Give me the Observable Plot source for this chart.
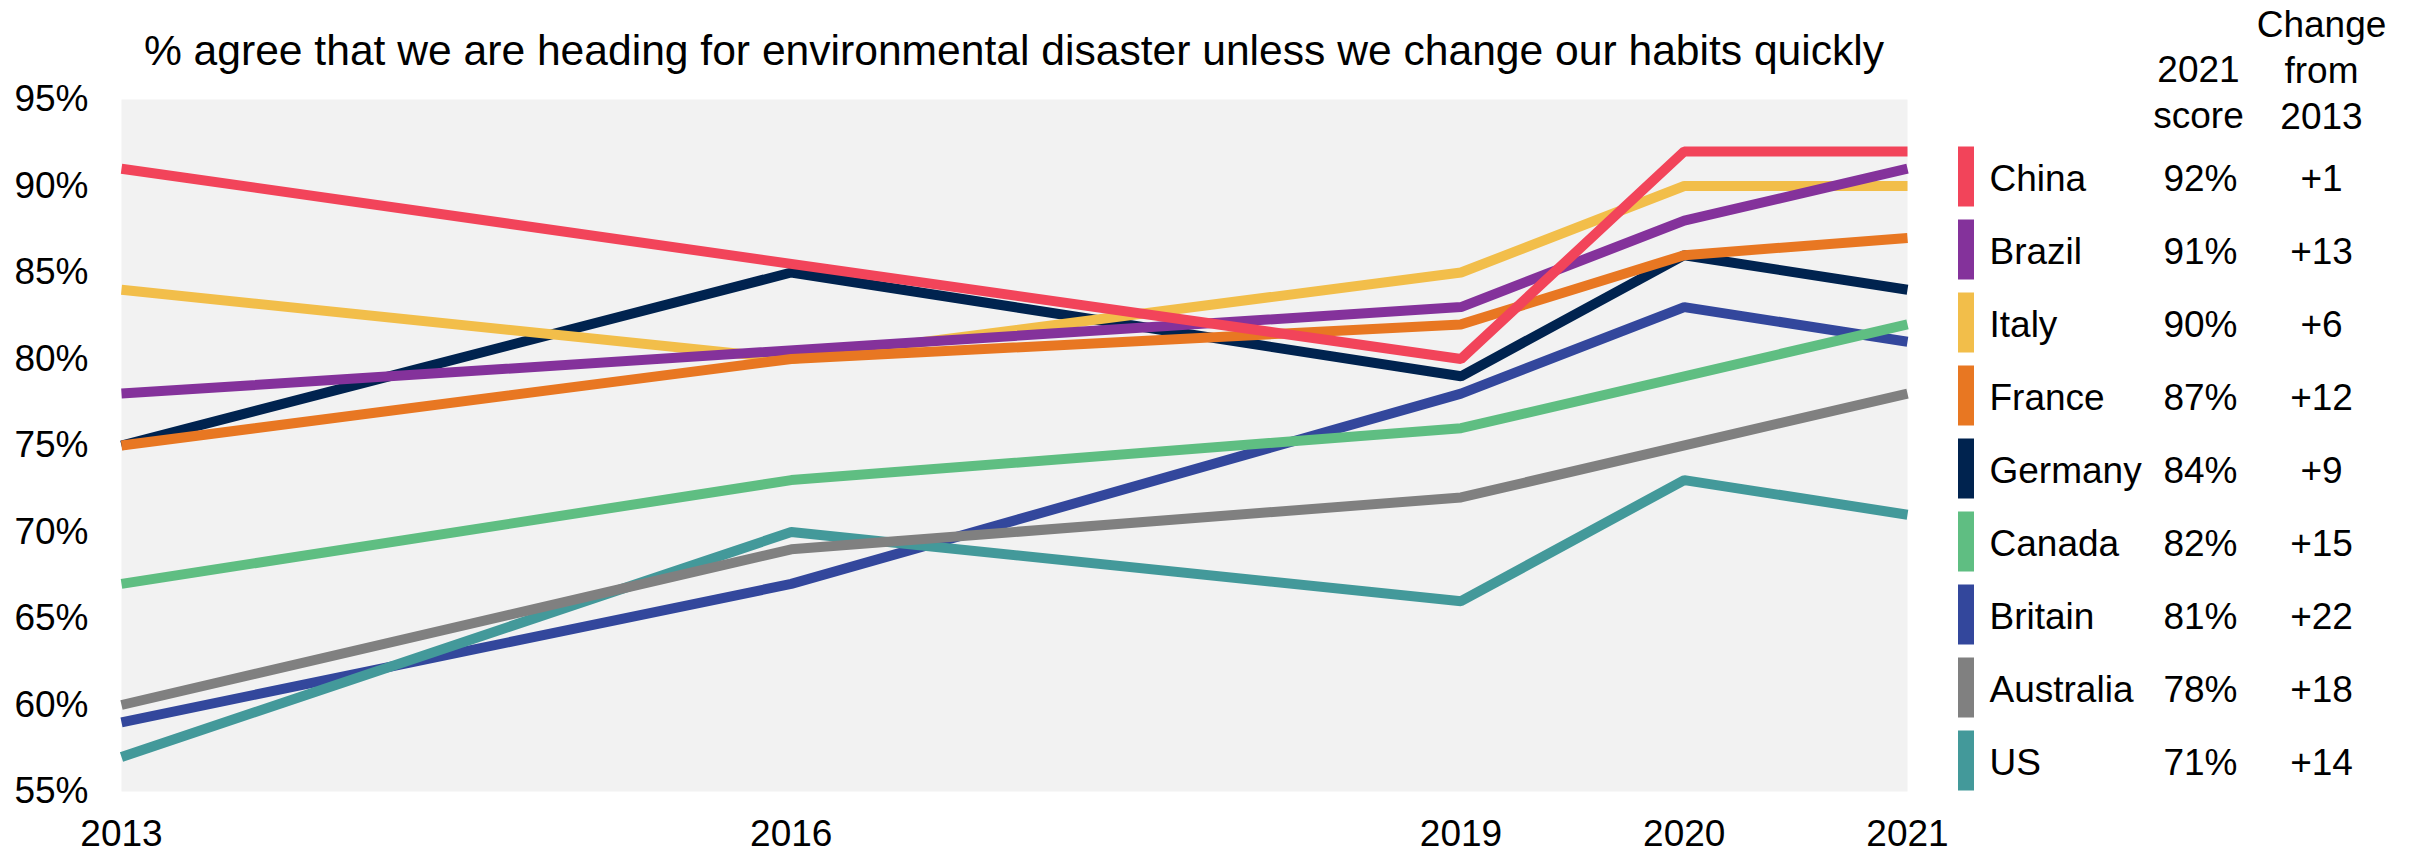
<!DOCTYPE html>
<html><head><meta charset="utf-8">
<script src="https://cdn.jsdelivr.net/npm/d3@7"></script>
<script src="https://cdn.jsdelivr.net/npm/@observablehq/plot@0.6"></script>
<style>
body{margin:0;background:#fff;font-family:"Liberation Sans",Arial,sans-serif;}
#wrap{position:relative;width:2418px;height:853px;display:flex;}
#wrap svg{display:block;}
#title{position:absolute;left:121px;width:1786px;top:29px;text-align:center;font-size:42.6px;line-height:1;color:#000;white-space:nowrap;}
</style></head><body>
<div id="wrap"><div id="title">% agree that we are heading for environmental disaster unless we change our habits quickly</div></div>
<script>
const years = [2013, 2016, 2019, 2020, 2021];
const yTicks = [55, 60, 65, 70, 75, 80, 85, 90, 95];
const countries = ["China", "Brazil", "Italy", "France", "Germany", "Canada", "Britain", "Australia", "US"];
const colors = ["#f2445a", "#84329b", "#f2be4a", "#e87722", "#00234f", "#5fbe82", "#33479c", "#808080", "#43999a"];
// values per country for years 2013, 2016, 2019, 2020, 2021 (null = not surveyed)
const china     = [91, null, 80, 92, 92];
const brazil    = [78, null, 83, 88, 91];
const italy     = [84, 80, 85, 90, 90];
const france    = [75, 80, 82, 86, 87];
const germany   = [75, 85, 79, 86, 84];
const canada    = [67, 73, 76, null, 82];
const britain   = [59, 67, 78, 83, 81];
const australia = [60, 69, 72, null, 78];
const us        = [57, 70, 66, 73, 71];
const series = {China: china, Brazil: brazil, Italy: italy, France: france, Germany: germany,
  Canada: canada, Britain: britain, Australia: australia, US: us};
const drawOrder = ["Britain", "US", "Australia", "Canada", "Germany", "Italy", "Brazil", "France", "China"];

const rows = [];
for (const c of drawOrder) series[c].forEach((v, i) => { if (v != null) rows.push({country: c, year: years[i], value: v}); });

const font = {fontFamily: "'Liberation Sans', Arial, sans-serif", fontSize: "37px", color: "#000", background: "transparent"};

const main = Plot.plot({
  width: 1950, height: 853,
  marginLeft: 121, marginRight: 43, marginTop: 99, marginBottom: 62,
  style: font,
  x: {domain: [2013, 2021], ticks: years, tickFormat: "d", tickSize: 0, tickPadding: 28, label: null},
  y: {domain: [55, 95], ticks: yTicks, tickFormat: d => d + "%", tickSize: 0, tickPadding: 33, label: null},
  color: {domain: countries, range: colors},
  marks: [
    Plot.frame({fill: "#f2f2f2", stroke: "none"}),
    Plot.line(rows, {x: "year", y: "value", z: "country", stroke: "country", strokeWidth: 10,
      strokeLinejoin: "miter", strokeLinecap: "butt", curve: "linear"})
  ]
});

const score = c => series[c][4] + "%";
const change = c => { const d = series[c][4] - series[c][0]; return (d >= 0 ? "+" : "") + d; };

const legend = Plot.plot({
  width: 468, height: 853,
  marginLeft: 8, marginRight: 444, marginTop: 139.5, marginBottom: 56,
  style: font,
  x: {domain: [0, 1], axis: null},
  y: {type: "band", domain: countries, padding: 0, axis: null},
  color: {domain: countries, range: colors},
  marks: [
    Plot.barX(countries, {x1: 0, x2: 1, y: d => d, fill: d => d, insetTop: 6.5, insetBottom: 6.5}),
    Plot.text(countries, {y: d => d, text: d => d, frameAnchor: "left", textAnchor: "start", dx: 31, dy: 2, fill: "#000"}),
    Plot.text(countries, {y: d => d, text: score, frameAnchor: "left", textAnchor: "middle", dx: 242, dy: 2, fill: "#000"}),
    Plot.text(countries, {y: d => d, text: change, frameAnchor: "left", textAnchor: "middle", dx: 363, dy: 2, fill: "#000"}),
    Plot.text(["2021\nscore"], {text: d => d, frameAnchor: "top-left", textAnchor: "middle", lineAnchor: "bottom", lineHeight: 1.23, dx: 240, dy: -12.5, fill: "#000"}),
    Plot.text(["Change\nfrom\n2013"], {text: d => d, frameAnchor: "top-left", textAnchor: "middle", lineAnchor: "bottom", lineHeight: 1.23, dx: 363, dy: -11.5, fill: "#000"})
  ]
});

const wrap = document.getElementById("wrap");
wrap.appendChild(main);
wrap.appendChild(legend);
</script>
</body></html>
